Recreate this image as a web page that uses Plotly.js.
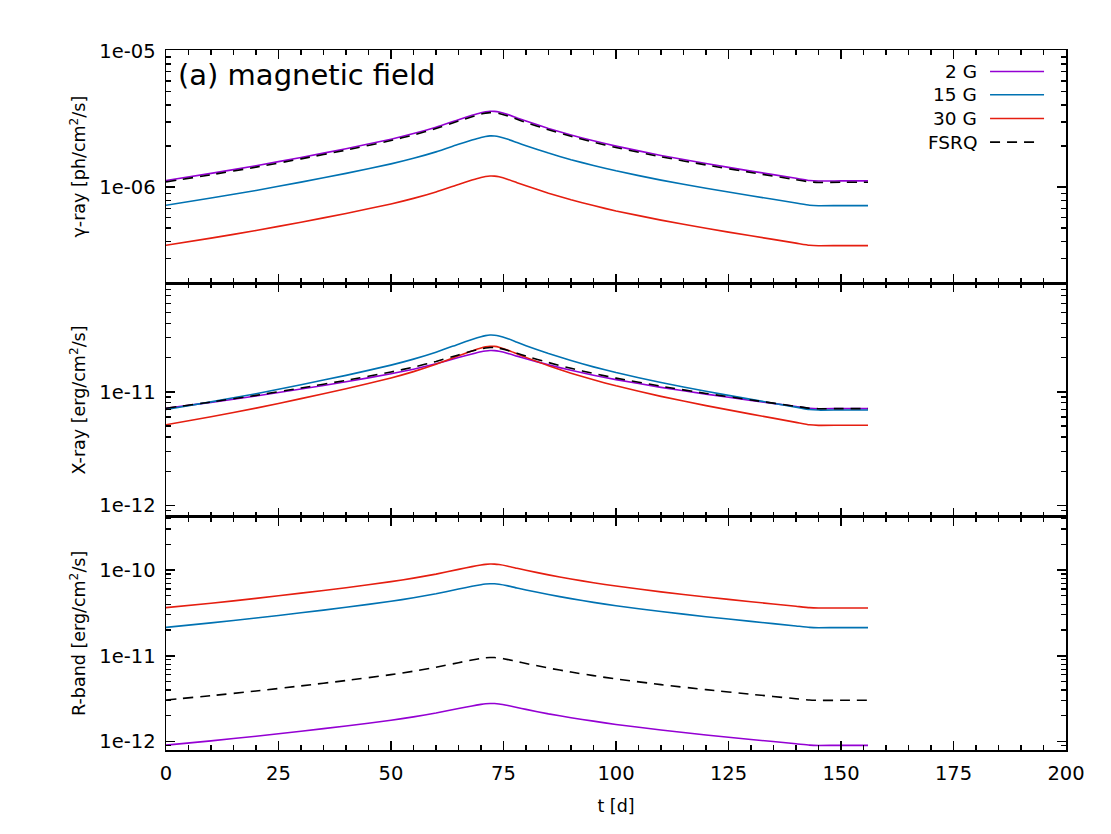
<!DOCTYPE html>
<html>
<head>
<meta charset="utf-8">
<script src="https://cdn.plot.ly/plotly-3.0.1.min.js"></script>
<style>body{margin:0;background:#fff}#plot{width:1111px;height:834px}</style>
</head>
<body>
<div id="plot"></div>
<script>
// time grid [d]
var t = [0,10,20,30,40,50,55,60,65,68,70,71,72,73,74,76,78,80,85,90,95,100,110,120,130,140,143,145,150,156];

// gamma-ray flux [ph/cm2/s]
var gam_2G   = [1.117e-6,1.259e-6,1.432e-6,1.648e-6,1.910e-6,2.244e-6,2.466e-6,2.748e-6,3.119e-6,3.358e-6,3.508e-6,3.565e-6,3.598e-6,3.590e-6,3.549e-6,3.397e-6,3.214e-6,3.048e-6,2.692e-6,2.410e-6,2.183e-6,1.996e-6,1.706e-6,1.486e-6,1.309e-6,1.159e-6,1.117e-6,1.107e-6,1.109e-6,1.109e-6];
var gam_15G  = [7.36e-7,8.30e-7,9.44e-7,1.086e-6,1.259e-6,1.479e-6,1.625e-6,1.811e-6,2.056e-6,2.213e-6,2.312e-6,2.349e-6,2.371e-6,2.366e-6,2.339e-6,2.238e-6,2.118e-6,2.009e-6,1.774e-6,1.588e-6,1.439e-6,1.315e-6,1.124e-6,9.79e-7,8.63e-7,7.64e-7,7.36e-7,7.29e-7,7.31e-7,7.31e-7];
var gam_30G  = [3.74e-7,4.22e-7,4.80e-7,5.52e-7,6.40e-7,7.52e-7,8.26e-7,9.21e-7,1.045e-6,1.125e-6,1.175e-6,1.194e-6,1.205e-6,1.203e-6,1.189e-6,1.138e-6,1.077e-6,1.021e-6,9.02e-7,8.07e-7,7.31e-7,6.68e-7,5.72e-7,4.98e-7,4.39e-7,3.88e-7,3.74e-7,3.71e-7,3.72e-7,3.72e-7];
var gam_fsrq = [1.091e-6,1.230e-6,1.399e-6,1.610e-6,1.866e-6,2.193e-6,2.410e-6,2.685e-6,3.047e-6,3.281e-6,3.427e-6,3.483e-6,3.515e-6,3.507e-6,3.467e-6,3.319e-6,3.140e-6,2.978e-6,2.630e-6,2.355e-6,2.133e-6,1.950e-6,1.667e-6,1.452e-6,1.279e-6,1.132e-6,1.091e-6,1.081e-6,1.084e-6,1.084e-6];

// X-ray flux [erg/cm2/s]
var xr_2G   = [7.16e-12,8.07e-12,9.18e-12,1.057e-11,1.224e-11,1.439e-11,1.581e-11,1.762e-11,1.999e-11,2.152e-11,2.249e-11,2.285e-11,2.306e-11,2.301e-11,2.275e-11,2.177e-11,2.060e-11,1.954e-11,1.726e-11,1.545e-11,1.399e-11,1.279e-11,1.094e-11,9.53e-12,8.39e-12,7.43e-12,7.16e-12,7.09e-12,7.11e-12,7.11e-12];
var xr_15G  = [6.98e-12,8.15e-12,9.62e-12,1.153e-11,1.395e-11,1.717e-11,1.939e-11,2.230e-11,2.625e-11,2.887e-11,3.055e-11,3.120e-11,3.157e-11,3.147e-11,3.101e-11,2.931e-11,2.729e-11,2.548e-11,2.171e-11,1.883e-11,1.657e-11,1.476e-11,1.206e-11,1.009e-11,8.57e-12,7.32e-12,6.98e-12,6.90e-12,6.92e-12,6.92e-12];
var xr_30G  = [5.12e-12,6.03e-12,7.18e-12,8.70e-12,1.063e-11,1.323e-11,1.504e-11,1.744e-11,2.071e-11,2.290e-11,2.430e-11,2.484e-11,2.516e-11,2.508e-11,2.469e-11,2.326e-11,2.158e-11,2.008e-11,1.695e-11,1.459e-11,1.275e-11,1.128e-11,9.11e-12,7.55e-12,6.36e-12,5.38e-12,5.12e-12,5.06e-12,5.07e-12,5.07e-12];
var xr_fsrq = [7.16e-12,8.12e-12,9.30e-12,1.079e-11,1.260e-11,1.493e-11,1.649e-11,1.848e-11,2.111e-11,2.281e-11,2.389e-11,2.430e-11,2.454e-11,2.448e-11,2.418e-11,2.310e-11,2.179e-11,2.061e-11,1.808e-11,1.609e-11,1.450e-11,1.319e-11,1.119e-11,9.67e-12,8.47e-12,7.44e-12,7.16e-12,7.09e-12,7.11e-12,7.11e-12];

// R-band flux [erg/cm2/s]
var rb_2G   = [9.12e-13,1.023e-12,1.156e-12,1.323e-12,1.522e-12,1.776e-12,1.943e-12,2.155e-12,2.432e-12,2.608e-12,2.720e-12,2.763e-12,2.786e-12,2.781e-12,2.751e-12,2.637e-12,2.502e-12,2.379e-12,2.109e-12,1.901e-12,1.734e-12,1.587e-12,1.367e-12,1.198e-12,1.062e-12,9.45e-13,9.12e-13,9.04e-13,9.06e-13,9.06e-13];
var rb_15G  = [2.148e-11,2.421e-11,2.754e-11,3.170e-11,3.673e-11,4.316e-11,4.743e-11,5.285e-11,5.998e-11,6.457e-11,6.746e-11,6.856e-11,6.919e-11,6.903e-11,6.824e-11,6.532e-11,6.181e-11,5.862e-11,5.176e-11,4.635e-11,4.198e-11,3.837e-11,3.281e-11,2.858e-11,2.518e-11,2.229e-11,2.148e-11,2.128e-11,2.133e-11,2.133e-11];
var rb_30G  = [3.640e-11,4.103e-11,4.668e-11,5.372e-11,6.224e-11,7.313e-11,8.037e-11,8.956e-11,1.0165e-10,1.0942e-10,1.1431e-10,1.1617e-10,1.1725e-10,1.1698e-10,1.1564e-10,1.1069e-10,1.0474e-10,9.934e-11,8.772e-11,7.854e-11,7.114e-11,6.503e-11,5.560e-11,4.843e-11,4.267e-11,3.777e-11,3.640e-11,3.607e-11,3.615e-11,3.615e-11];
var rb_fsrq = [3.055e-12,3.434e-12,3.895e-12,4.466e-12,5.157e-12,6.036e-12,6.618e-12,7.355e-12,8.324e-12,8.939e-12,9.331e-12,9.482e-12,9.568e-12,9.546e-12,9.441e-12,9.041e-12,8.571e-12,8.138e-12,7.207e-12,6.472e-12,5.875e-12,5.383e-12,4.619e-12,4.037e-12,3.567e-12,3.167e-12,3.055e-12,3.028e-12,3.034e-12,3.034e-12];

var names  = ['2 G','15 G','30 G','FSRQ'];
var colors = ['#9400d3','#0072b2','#e51e10','#000000'];
var dashes = ['solid','solid','solid','10px,7px'];

var panels = [
	{xa:'x',  ya:'y',  series:[gam_2G, gam_15G, gam_30G, gam_fsrq]},
	{xa:'x2', ya:'y2', series:[xr_2G, xr_15G, xr_30G, xr_fsrq]},
	{xa:'x3', ya:'y3', series:[rb_2G, rb_15G, rb_30G, rb_fsrq]}
];

var data = [];
panels.forEach(function(p){
	p.series.forEach(function(s, k){
		data.push({
			x: t, y: s, xaxis: p.xa, yaxis: p.ya,
			type: 'scatter', mode: 'lines', name: names[k],
			line: {color: colors[k], width: 1.6, dash: dashes[k], shape: 'spline', smoothing: 0.5},
			showlegend: false, hoverinfo: 'skip'
		});
	});
});

var font = 'DejaVu Sans';

function minorLog(lo, hi){
	var v = [];
	for (var e = lo; e <= hi; e++)
		for (var m = 2; m <= 9; m++) v.push(m * Math.pow(10, e));
	return v;
}

function xax(anchor, labels){
	var a = {
		anchor: anchor, range: [0, 200], tick0: 0, dtick: 25,
		showline: true, linecolor: '#000', linewidth: 1.5, mirror: 'allticks',
		ticks: 'inside', ticklen: 9, tickwidth: 1.5, tickcolor: '#000',
		minor: {ticks: 'inside', ticklen: 5, tickwidth: 1.2, tickcolor: '#000', dtick: 5, showgrid: false},
		showgrid: false, zeroline: false, showticklabels: labels,
		tickfont: {family: font, size: 19.5, color: '#000'}, ticklabelstandoff: 5
	};
	if (anchor != 'y3') a.matches = 'x3';
	return a;
}

function yax(dom, range, vals, texts, title, mlo, mhi){
	return {
		domain: dom, type: 'log', range: range,
		tickmode: 'array', tickvals: vals, ticktext: texts,
		showline: true, linecolor: '#000', linewidth: 1.5, mirror: 'allticks',
		ticks: 'inside', ticklen: 9, tickwidth: 1.5, tickcolor: '#000',
		minor: {ticks: 'inside', ticklen: 5, tickwidth: 1.2, tickcolor: '#000', tickmode: 'array', tickvals: minorLog(mlo, mhi), showgrid: false},
		showgrid: false, zeroline: false,
		tickfont: {family: font, size: 19.5, color: '#000'}, ticklabelstandoff: 5,
		title: {text: title, font: {family: font, size: 17.5, color: '#000'}, standoff: 9}
	};
}

// hand-made legend: text on the left, line sample on the right
var annotations = [{
	xref: 'paper', yref: 'paper', x: 0.011, y: 0.9636, xanchor: 'left', yanchor: 'middle',
	text: '(a) magnetic field', showarrow: false, font: {family: font, size: 29, color: '#000'}
}];
var shapes = [];
var legY = [0.9693, 0.9361, 0.9022, 0.8684];
for (var k = 0; k < names.length; k++){
	annotations.push({xref:'paper', yref:'paper', x:0.9033, y:legY[k], xanchor:'right', yanchor:'middle',
		text: names[k], showarrow:false, font:{family:font, size:18.5, color:'#000'}});
	shapes.push({type:'line', xref:'paper', yref:'paper', x0:0.9156, x1:(k == 3 ? 0.9711 : 0.9756), y0:legY[k], y1:legY[k],
		line:{color:colors[k], width:1.6, dash:dashes[k]}});
}

var layout = {
	width: 1111, height: 834,
	margin: {l: 166, r: 45, t: 49.5, b: 84},
	paper_bgcolor: '#fff', plot_bgcolor: '#fff',
	font: {family: font, color: '#000'},
	showlegend: false,
	xaxis: xax('y', false),
	xaxis2: xax('y2', false),
	xaxis3: Object.assign(xax('y3', true), {title: {text: 't [d]', font: {family: font, size: 17.5, color: '#000'}, standoff: 16}}),
	yaxis: yax([0.6667, 1], [-6.706, -4.995], [1e-6, 1e-5], ['1e-06', '1e-05'], 'γ-ray [ph/cm<sup>2</sup>/s]', -7, -6),
	yaxis2: yax([0.3333, 0.6667], [-12.10, -10.045], [1e-12, 1e-11], ['1e-12', '1e-11'], 'X-ray [erg/cm<sup>2</sup>/s]', -13, -11),
	yaxis3: yax([0, 0.3333], [-12.097, -9.379], [1e-12, 1e-11, 1e-10], ['1e-12', '1e-11', '1e-10'], 'R-band [erg/cm<sup>2</sup>/s]', -13, -10),
	annotations: annotations,
	shapes: shapes
};

Plotly.newPlot('plot', data, layout, {displayModeBar: false, staticPlot: true});
</script>
</body>
</html>
